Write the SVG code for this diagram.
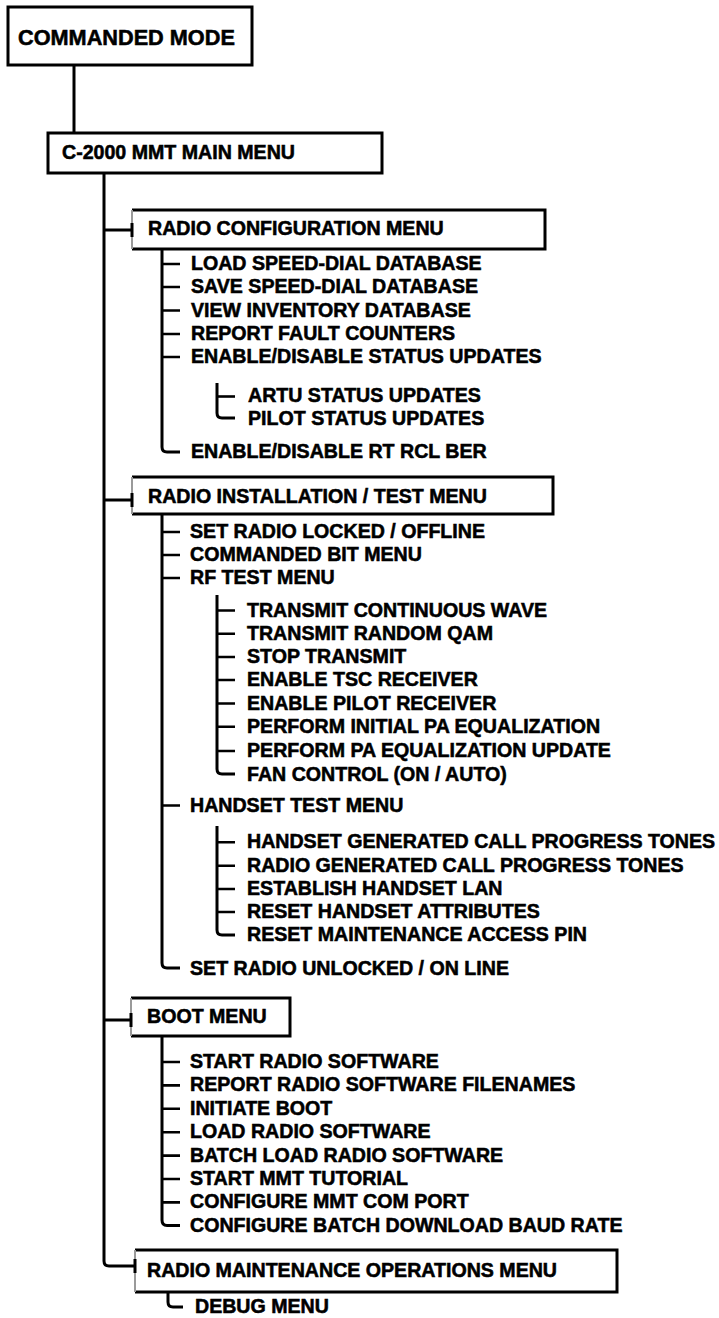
<svg xmlns="http://www.w3.org/2000/svg" width="719" height="1318" viewBox="0 0 719 1318">
<style>
text{font-family:"Liberation Sans",Arial,Helvetica,sans-serif;font-weight:bold;font-size:19.6px;fill:#000;stroke:#000;stroke-width:0.55px}
.title{font-size:21.7px}
.box{fill:#fff;stroke:#000;stroke-width:3}
.edge{fill:none;stroke:#000;stroke-width:3}
.ledge{stroke:#9a9a9a;stroke-width:2}
.ln{fill:none;stroke:#000;stroke-width:3}
.tk{stroke:#000;stroke-width:2.6}
</style>
<rect width="719" height="1318" fill="#fff"/>
<g id="connectors">
<path class="ln" d="M74 65V133"/>
<path class="ln" d="M104 173V1261Q104 1266 109 1266H135"/>
<path class="ln" d="M104 230H132M104 500H132M104 1020H131"/>
<path class="ln" d="M162 249V447Q162 452 167 452H180"/>
<path class="ln" d="M217 383V413Q217 418 222 418H235"/>
<path class="ln" d="M162 514V963Q162 968 167 968H180"/>
<path class="ln" d="M217 595V769Q217 774 222 774H235"/>
<path class="ln" d="M217 826V930Q217 935 222 935H235"/>
<path class="ln" d="M162 1036V1220Q162 1225.5 167 1225.5H180"/>
<path class="ln" d="M168 1292V1302Q168 1307 173 1307H183"/>
<g class="tk">
<path d="M162 264H180M162 287H180M162 310.5H180M162 334H180M162 357H180"/>
<path d="M217 396.5H235"/>
<path d="M162 532H180M162 555H180M162 578H180M162 805.5H180"/>
<path d="M217 610.5H235M217 633.8H235M217 657H235M217 680H235M217 703.5H235M217 726.8H235M217 751H235"/>
<path d="M217 842.3H235M217 865.7H235M217 889H235M217 912H235"/>
<path d="M162 1062H180M162 1085.4H180M162 1108.8H180M162 1132.2H180M162 1155.6H180M162 1179H180M162 1202.4H180"/>
</g>
</g>
<g id="commanded-mode">
<rect class="box" x="8" y="7" width="244" height="58"/>
<text class="title" x="18" y="45">COMMANDED MODE</text>
</g>
<g id="main-menu">
<rect class="box" x="48" y="133" width="334" height="40"/>
<text x="62" y="159">C-2000 MMT MAIN MENU</text>
</g>
<g id="radio-config-menu">
<path class="edge" d="M132 210H545V249H132"/>
<line class="ledge" x1="132" y1="210" x2="132" y2="249"/>
<line class="ln" x1="132" y1="223" x2="132" y2="237"/>
<text x="148" y="235">RADIO CONFIGURATION MENU</text>
</g>
<g id="load-speed-dial"><text x="191" y="270">LOAD SPEED-DIAL DATABASE</text></g>
<g id="save-speed-dial"><text x="191" y="293.3">SAVE SPEED-DIAL DATABASE</text></g>
<g id="view-inventory"><text x="191" y="316.7">VIEW INVENTORY DATABASE</text></g>
<g id="report-fault"><text x="191" y="340">REPORT FAULT COUNTERS</text></g>
<g id="enable-status"><text x="191" y="363.3">ENABLE/DISABLE STATUS UPDATES</text></g>
<g id="artu-status"><text x="248" y="402.3">ARTU STATUS UPDATES</text></g>
<g id="pilot-status"><text x="248" y="425">PILOT STATUS UPDATES</text></g>
<g id="enable-ber"><text x="191" y="458.3">ENABLE/DISABLE RT RCL BER</text></g>
<g id="radio-install-menu">
<path class="edge" d="M132 477H553V514H132"/>
<line class="ledge" x1="132" y1="477" x2="132" y2="514"/>
<line class="ln" x1="132" y1="493" x2="132" y2="507"/>
<text x="148" y="503.3">RADIO INSTALLATION / TEST MENU</text>
</g>
<g id="set-locked"><text x="190" y="538">SET RADIO LOCKED / OFFLINE</text></g>
<g id="commanded-bit"><text x="190" y="561">COMMANDED BIT MENU</text></g>
<g id="rf-test-menu"><text x="190" y="584">RF TEST MENU</text></g>
<g id="transmit-cw"><text x="247" y="616.5">TRANSMIT CONTINUOUS WAVE</text></g>
<g id="transmit-qam"><text x="247" y="639.8">TRANSMIT RANDOM QAM</text></g>
<g id="stop-transmit"><text x="247" y="663">STOP TRANSMIT</text></g>
<g id="enable-tsc"><text x="247" y="686.2">ENABLE TSC RECEIVER</text></g>
<g id="enable-pilot"><text x="247" y="709.5">ENABLE PILOT RECEIVER</text></g>
<g id="initial-pa"><text x="247" y="732.8">PERFORM INITIAL PA EQUALIZATION</text></g>
<g id="pa-update"><text x="247" y="757">PERFORM PA EQUALIZATION UPDATE</text></g>
<g id="fan-control"><text x="247" y="781">FAN CONTROL (ON / AUTO)</text></g>
<g id="handset-test-menu"><text x="190" y="811.7">HANDSET TEST MENU</text></g>
<g id="handset-tones"><text x="247" y="848.3">HANDSET GENERATED CALL PROGRESS TONES</text></g>
<g id="radio-tones"><text x="247" y="871.7">RADIO GENERATED CALL PROGRESS TONES</text></g>
<g id="establish-lan"><text x="247" y="895">ESTABLISH HANDSET LAN</text></g>
<g id="reset-attributes"><text x="247" y="918">RESET HANDSET ATTRIBUTES</text></g>
<g id="reset-pin"><text x="247" y="941">RESET MAINTENANCE ACCESS PIN</text></g>
<g id="set-unlocked"><text x="190" y="975">SET RADIO UNLOCKED / ON LINE</text></g>
<g id="boot-menu">
<path class="edge" d="M131 998H290V1036H131"/>
<line class="ledge" x1="131" y1="998" x2="131" y2="1036"/>
<line class="ln" x1="131" y1="1013" x2="131" y2="1027"/>
<text x="147" y="1023">BOOT MENU</text>
</g>
<g id="start-radio-sw"><text x="190" y="1068">START RADIO SOFTWARE</text></g>
<g id="report-filenames"><text x="190" y="1091.4">REPORT RADIO SOFTWARE FILENAMES</text></g>
<g id="initiate-boot"><text x="190" y="1114.8">INITIATE BOOT</text></g>
<g id="load-radio-sw"><text x="190" y="1138.2">LOAD RADIO SOFTWARE</text></g>
<g id="batch-load"><text x="190" y="1161.6">BATCH LOAD RADIO SOFTWARE</text></g>
<g id="start-tutorial"><text x="190" y="1185">START MMT TUTORIAL</text></g>
<g id="config-com-port"><text x="190" y="1208.4">CONFIGURE MMT COM PORT</text></g>
<g id="config-baud"><text x="190" y="1231.8">CONFIGURE BATCH DOWNLOAD BAUD RATE</text></g>
<g id="maintenance-menu">
<path class="edge" d="M135 1250H617V1292H135"/>
<line class="ledge" x1="135" y1="1250" x2="135" y2="1292"/>
<line class="ln" x1="135" y1="1259" x2="135" y2="1273"/>
<text x="147" y="1277">RADIO MAINTENANCE OPERATIONS MENU</text>
</g>
<g id="debug-menu"><text x="195" y="1313">DEBUG MENU</text></g>
</svg>
